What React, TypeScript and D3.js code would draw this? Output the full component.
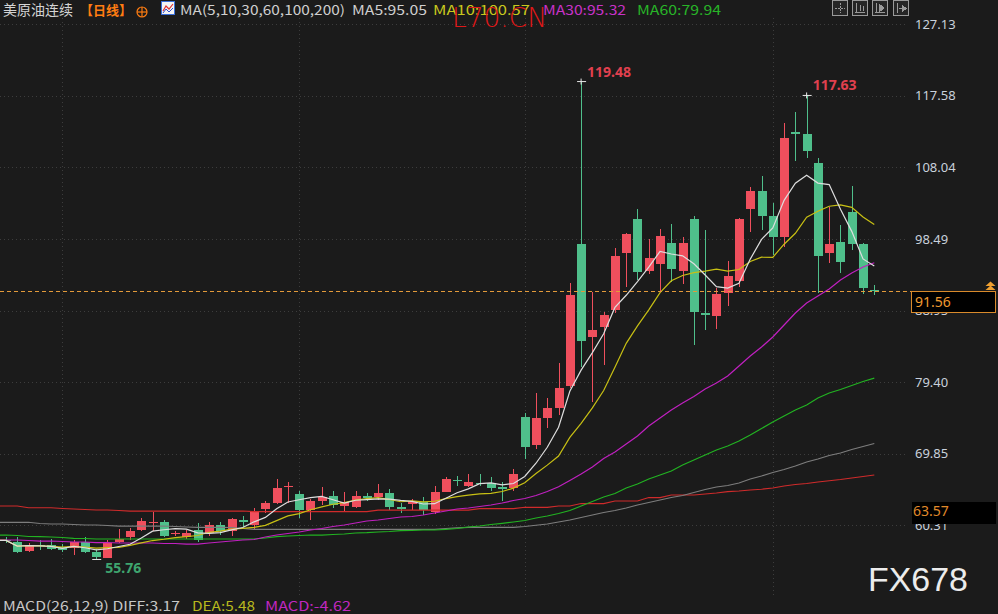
import * as d3 from 'd3';

// 日线 OHLC
const opens = [58.4, 58.1, 56.9, 57.7, 57.7, 57.4, 57.25, 58.1, 56.7, 56.0,
  58.1, 58.7, 59.7, 60.6, 60.7, 59.1, 58.7, 59.7, 59.25, 60.4,
  59.5, 61.0, 60.35, 62.45, 63.25, 65.4, 64.45, 62.3, 63.55, 64.2,
  62.9, 62.8, 64.2, 64.05, 64.6, 62.7, 63.2, 63.45, 62.15, 64.8,
  66.35, 65.6, 66.0, 65.9, 65.4, 65.25, 74.7, 71.0, 74.6, 75.9,
  78.93, 97.78, 85.4, 86.8, 89.0, 96.6, 101.1, 94.26, 95.15, 97.9,
  94.26, 101.1, 88.6, 88.2, 91.25, 92.93, 102.45, 104.9, 101.55, 98.8,
  112.8, 112.45, 108.58, 96.58, 98.05, 102.05, 97.78, 91.7];
const highs = [58.8, 58.7, 57.9, 58.4, 58.5, 57.8, 58.4, 58.7, 57.2, 58.4,
  59.8, 59.9, 61.3, 62.1, 61.0, 59.5, 59.7, 60.6, 60.7, 60.8,
  61.3, 61.55, 62.6, 63.6, 66.45, 66.05, 64.9, 63.8, 65.38, 64.9,
  64.7, 64.9, 64.6, 65.8, 65.2, 63.25, 63.8, 64.05, 65.5, 66.7,
  66.9, 67.2, 67.1, 66.8, 66.1, 67.8, 75.33, 77.9, 77.25, 82.0,
  92.6, 119.48, 91.46, 88.8, 97.25, 99.33, 102.45, 98.45, 99.8, 100.45,
  98.7, 101.55, 99.7, 91.9, 95.5, 101.25, 105.4, 106.9, 103.25, 113.9,
  115.46, 117.63, 109.25, 102.8, 100.36, 105.56, 98.0, 92.36];
const lows = [57.9, 56.6, 56.8, 57.0, 57.0, 56.7, 56.4, 56.6, 55.76, 55.9,
  57.9, 58.4, 59.5, 59.6, 58.7, 58.9, 58.5, 58.1, 58.9, 59.0,
  58.9, 60.1, 59.8, 62.0, 63.2, 63.25, 61.25, 61.0, 63.0, 62.65,
  62.1, 62.65, 63.6, 63.7, 62.35, 62.0, 62.35, 61.7, 61.85, 64.7,
  65.6, 65.4, 65.5, 64.9, 63.6, 64.9, 69.1, 70.45, 73.25, 75.0,
  78.6, 81.46, 76.8, 81.7, 88.6, 92.1, 93.0, 93.8, 91.5, 92.8,
  92.5, 84.36, 86.35, 86.45, 89.5, 92.13, 99.46, 99.7, 96.36, 97.46,
  108.93, 109.25, 91.25, 95.25, 93.9, 97.0, 91.1, 91.0];
const closes = [58.3, 56.8, 57.7, 57.5, 57.2, 57.0, 58.1, 56.8, 56.05, 58.0,
  58.5, 59.6, 60.9, 60.7, 58.9, 59.3, 59.25, 58.4, 60.3, 59.5,
  61.1, 60.8, 62.2, 63.25, 65.25, 65.6, 62.3, 63.6, 64.1, 63.0,
  63.4, 64.2, 64.0, 64.6, 62.8, 62.55, 63.55, 62.3, 64.8, 66.45,
  66.2, 66.1, 65.8, 65.25, 65.2, 67.1, 70.8, 74.6, 75.9, 78.6,
  90.99, 84.93, 86.3, 88.4, 96.2, 99.1, 94.1, 95.9, 98.9, 94.45,
  97.9, 88.8, 88.4, 91.1, 93.55, 101.1, 104.9, 101.5, 98.8, 111.9,
  112.5, 110.26, 96.26, 97.78, 95.46, 97.78, 91.9, 91.56];

// 长周期均线（窗口外数据不可得，按图读取）
const ma30 = [58.36, 58.36, 58.29, 58.22, 58.22, 58.16, 58.09, 58.09, 58.02, 58.02,
  57.96, 57.96, 57.96, 57.96, 57.89, 57.89, 57.82, 57.82, 57.96, 58.09,
  58.22, 58.36, 58.42, 58.76, 59.02, 59.22, 59.42, 59.69, 59.89, 60.16,
  60.36, 60.62, 60.89, 61.02, 61.22, 61.42, 61.49, 61.69, 61.96, 62.22,
  62.49, 62.62, 62.82, 63.02, 63.29, 63.62, 63.89, 64.29, 64.82, 65.46,
  66.29, 67.16, 68.09, 69.22, 70.09, 71.16, 72.22, 73.56, 74.62, 75.69,
  76.62, 77.49, 78.49, 79.29, 80.22, 81.56, 82.89, 84.09, 85.42, 87.02,
  88.62, 89.96, 90.89, 91.82, 93.02, 93.96, 94.76, 95.32];
const ma60 = [59.02, 58.96, 58.82, 58.80, 58.76, 58.69, 58.58, 58.56, 58.49, 58.49,
  58.49, 58.49, 58.49, 58.49, 58.49, 58.49, 58.49, 58.49, 58.49, 58.49,
  58.49, 58.49, 58.49, 58.62, 58.80, 58.89, 58.96, 59.02, 59.02, 59.09,
  59.16, 59.29, 59.33, 59.42, 59.49, 59.60, 59.62, 59.69, 59.69, 59.78,
  59.89, 60.09, 60.22, 60.42, 60.58, 60.76, 60.96, 61.29, 61.56, 61.89,
  62.29, 62.89, 63.49, 64.09, 64.56, 65.29, 65.82, 66.49, 67.02, 67.56,
  68.36, 69.02, 69.69, 70.36, 70.89, 71.56, 72.36, 73.22, 74.09, 74.89,
  75.69, 76.36, 77.29, 77.96, 78.42, 78.96, 79.49, 79.94];
const ma100 = [60.72, 60.72, 60.72, 60.56, 60.49, 60.49, 60.42, 60.36, 60.36, 60.29,
  60.22, 60.22, 60.22, 60.22, 60.22, 60.16, 60.09, 60.05, 60.05, 60.05,
  60.02, 59.89, 59.78, 59.78, 59.78, 59.78, 59.78, 59.78, 59.78, 59.78,
  59.78, 59.78, 59.78, 59.78, 59.78, 59.78, 59.78, 59.78, 59.78, 59.89,
  59.98, 60.05, 60.05, 60.05, 60.05, 60.05, 60.16, 60.32, 60.49, 60.76,
  61.02, 61.36, 61.69, 62.02, 62.29, 62.62, 63.02, 63.36, 63.69, 64.02,
  64.29, 64.69, 65.09, 65.42, 65.62, 65.96, 66.49, 66.89, 67.36, 67.76,
  68.22, 68.76, 69.16, 69.62, 69.96, 70.42, 70.82, 71.22];
const ma200 = [62.89, 62.89, 62.66, 62.66, 62.66, 62.56, 62.49, 62.42, 62.36, 62.36,
  62.29, 62.22, 62.22, 62.22, 62.22, 62.22, 62.22, 62.22, 62.22, 62.22,
  62.22, 62.22, 62.13, 62.13, 62.13, 62.13, 62.13, 62.13, 62.13, 62.13,
  62.13, 62.13, 62.13, 62.33, 62.33, 62.33, 62.33, 62.33, 62.33, 62.33,
  62.33, 62.33, 62.53, 62.53, 62.53, 62.53, 62.72, 62.72, 62.72, 62.89,
  62.89, 63.22, 63.22, 63.22, 63.56, 63.56, 63.56, 64.02, 64.02, 64.36,
  64.36, 64.36, 64.49, 64.62, 64.80, 64.89, 65.02, 65.12, 65.29, 65.56,
  65.76, 65.89, 66.09, 66.26, 66.42, 66.62, 66.82, 67.02];

const yTicks = [127.13, 117.58, 108.04, 98.49, 88.95, 79.40, 69.85, 60.31];
const monthStarts = [5, 26, 46, 68];
const highMarks = [51, 71];
const lowMarks = [8];
const lastPrice = 91.56;
const markPrice = 63.57;

const UP = '#ef4f5d';
const DOWN = '#4fbf8b';
const CN_FONT = '"Noto Sans CJK SC", "Noto Sans", sans-serif';

export default function App() {
  const W = 998;
  const H = 614;
  const n = closes.length;

  const x = d3.scalePoint<number>().domain(d3.range(n)).range([6, 874.3]);
  const y = d3.scaleLinear().domain([60.31, 127.13]).range([525.35, 24.2]);
  const X = (i: number) => x(i) as number;

  const movingAvg = (len: number) =>
    closes.map((_, i) => d3.mean(closes.slice(Math.max(0, i - len + 1), i + 1)) as number);
  const ma5 = movingAvg(5);
  const ma10 = movingAvg(10);

  const lineGen = d3.line<number>().x((_, i) => X(i)).y((d) => y(d));
  // 均线从左边缘画起
  const maPath = (data: number[]) => `M0,${y(data[0])}L` + (lineGen(data) ?? '').slice(1);

  const maSeries = [
    { key: 'ma200', data: ma200, color: '#cf2b2b' },
    { key: 'ma100', data: ma100, color: '#7d7d7d' },
    { key: 'ma60', data: ma60, color: '#22b322' },
    { key: 'ma30', data: ma30, color: '#c020c0' },
    { key: 'ma10', data: ma10, color: '#c8c014' },
    { key: 'ma5', data: ma5, color: '#dedede' },
  ];

  const bodyW = 9;

  return (
    <svg
      width={W}
      height={H}
      style={{ position: 'fixed', left: 0, top: 0, background: '#1b1b1b' }}
    >
      <rect width={W} height={H} fill='#1b1b1b' />

      {/* 网格 */}
      {yTicks.map((t) => (
        <line
          key={'g' + t}
          x1={0}
          x2={908}
          y1={Math.round(y(t)) + 0.5}
          y2={Math.round(y(t)) + 0.5}
          stroke='#3d3d3d'
          strokeDasharray='1,3'
        />
      ))}
      {monthStarts.map((i) => (
        <line
          key={'v' + i}
          x1={Math.round(X(i)) + 0.5}
          x2={Math.round(X(i)) + 0.5}
          y1={18}
          y2={596}
          stroke='#3d3d3d'
          strokeDasharray='1,3'
        />
      ))}

      {/* K线 */}
      {closes.map((c, i) => {
        const o = opens[i];
        const color = c >= o ? UP : DOWN;
        const cx = Math.round(X(i)) + 0.5;
        const top = y(Math.max(o, c));
        const h = Math.max(1, Math.abs(y(o) - y(c)));
        return (
          <g key={'k' + i} shapeRendering='crispEdges'>
            <line x1={cx} x2={cx} y1={y(highs[i])} y2={y(lows[i])} stroke={color} />
            <rect x={cx - bodyW / 2} y={top} width={bodyW} height={h} fill={color} />
          </g>
        );
      })}

      {/* 均线 */}
      {maSeries.map((s) => (
        <path key={s.key} d={maPath(s.data)} fill='none' stroke={s.color} strokeWidth={1.2} />
      ))}

      {/* 最高/最低标记 */}
      {highMarks.map((i) => (
        <g key={'h' + i}>
          <line x1={X(i) - 4} x2={X(i) + 5} y1={y(highs[i])} y2={y(highs[i])} stroke='#e8e8e8' />
          <line x1={X(i)} x2={X(i)} y1={y(highs[i]) - 3} y2={y(highs[i]) + 3} stroke='#e8e8e8' />
          <text
            x={X(i) + 6}
            y={y(highs[i]) - 5}
            fill='#e0404f'
            fontSize={14}
            fontWeight='bold'
            fontFamily='"Noto Sans", sans-serif'
          >
            {highs[i].toFixed(2)}
          </text>
        </g>
      ))}
      {lowMarks.map((i) => (
        <g key={'l' + i}>
          <line x1={X(i) - 4} x2={X(i) + 5} y1={y(lows[i])} y2={y(lows[i])} stroke='#e8e8e8' />
          <text
            x={X(i) + 9}
            y={y(lows[i]) + 14}
            fill='#3fa56f'
            fontSize={14}
            fontWeight='bold'
            fontFamily='"Noto Sans", sans-serif'
          >
            {lows[i].toFixed(2)}
          </text>
        </g>
      ))}

      {/* 右侧价格轴 */}
      {yTicks.map((t) => (
        <text
          key={'t' + t}
          x={915}
          y={y(t) + 4.5}
          fill='#c9d1dc'
          fontSize={13}
          fontFamily='"Noto Sans", sans-serif'
        >
          {t.toFixed(2)}
        </text>
      ))}

      {/* 最新价 */}
      <line
        x1={0}
        x2={911}
        y1={Math.round(y(lastPrice)) + 0.5}
        y2={Math.round(y(lastPrice)) + 0.5}
        stroke='#e39a3a'
        strokeDasharray='4,3'
      />
      <rect x={911.5} y={Math.round(y(lastPrice)) + 0.5} width={84} height={21} fill='#000' stroke='#d98a2b' />
      <text x={915} y={y(lastPrice) + 16} fill='#f09a30' fontSize={14} fontFamily='"Noto Sans", sans-serif'>
        {lastPrice.toFixed(2)}
      </text>
      <polygon points='985.5,286 990.5,281.5 995.5,286' fill='#f0a030' />
      <polygon points='985.5,290 990.5,285.5 995.5,290' fill='#f0a030' />

      <rect x={912} y={Math.round(y(markPrice)) + 1} width={84} height={22} fill='#000' />
      <text x={913} y={y(markPrice) + 15} fill='#e08a2a' fontSize={14} fontFamily='"Noto Sans", sans-serif'>
        {markPrice.toFixed(2)}
      </text>

      {/* 顶部标题栏 */}
      <g fontFamily={CN_FONT} fontSize={13}>
        <text x={3} y={15} fill='#d4d4d4' fontSize={14}>美原油连续</text>
        <text x={80} y={15} fill='#ff7d12' fontWeight={600}>【日线】</text>
        <circle cx={142} cy={12} r={5} fill='none' stroke='#ff7d12' strokeWidth={1.2} />
        <line x1={137} x2={147} y1={12} y2={12} stroke='#ff7d12' strokeWidth={1.2} />
        <line x1={142} x2={142} y1={7} y2={17} stroke='#ff7d12' strokeWidth={1.2} />
        <rect x={161.5} y={1.5} width={13} height={13} fill='#f4f4f4' stroke='#3a6ed8' />
        <polyline points='163,11 166,6 169,9 173,4' fill='none' stroke='#e03030' strokeWidth={1.2} />
        <polyline points='163,13 166,9 169,12 173,8' fill='none' stroke='#3050d0' strokeWidth={1} />
        <text x={180} y={15} fill='#cfcfcf' textLength={165} lengthAdjust='spacingAndGlyphs'>MA(5,10,30,60,100,200)</text>
        <text x={352} y={15} fill='#cfcfcf' textLength={75} lengthAdjust='spacingAndGlyphs'>MA5:95.05</text>
        <text x={433} y={15} fill='#c8c81e' textLength={97} lengthAdjust='spacingAndGlyphs'>MA10:100.57</text>
        <text x={543} y={15} fill='#c832c8' textLength={83} lengthAdjust='spacingAndGlyphs'>MA30:95.32</text>
        <text x={637} y={15} fill='#28b428' textLength={84} lengthAdjust='spacingAndGlyphs'>MA60:79.94</text>
      </g>
      <text
        x={452}
        y={27}
        fill='#e01818'
        fontSize={26}
        fontWeight={300}
        fontFamily='"DejaVu Sans", sans-serif'
        textLength={95}
        lengthAdjust='spacingAndGlyphs'
      >
        L70.CN
      </text>

      {/* 右上角按钮 */}
      {[832, 852, 872, 893].map((bx, k) => (
        <g key={'b' + k} stroke='#9a9a9a' fill='none' shapeRendering='crispEdges'>
          <rect x={bx + 0.5} y={0.5} width={15} height={15} fill='#262626' />
          {k === 0 && (
            <g>
              <line x1={bx + 3} x2={bx + 13} y1={8.5} y2={8.5} strokeDasharray='2,1' />
              <line x1={bx + 8.5} x2={bx + 8.5} y1={3} y2={13} strokeDasharray='2,1' />
            </g>
          )}
          {k === 1 && (
            <g>
              <line x1={bx + 3} x2={bx + 13} y1={12.5} y2={12.5} />
              <line x1={bx + 4.5} x2={bx + 4.5} y1={3} y2={13} />
              <line x1={bx + 8.5} x2={bx + 8.5} y1={5} y2={11} />
              <line x1={bx + 11.5} x2={bx + 11.5} y1={6} y2={11} />
            </g>
          )}
          {k === 2 && (
            <g>
              <line x1={bx + 4.5} x2={bx + 4.5} y1={3} y2={13} />
              <line x1={bx + 3} x2={bx + 13} y1={12.5} y2={12.5} />
              <polygon points={`${bx + 7},4 ${bx + 12},8 ${bx + 7},12`} fill='#9a9a9a' />
            </g>
          )}
          {k === 3 && (
            <g>
              <line x1={bx + 4.5} x2={bx + 4.5} y1={3} y2={13} />
              <line x1={bx + 6} x2={bx + 12} y1={8.5} y2={8.5} />
              <polygon points={`${bx + 9},5 ${bx + 13},8.5 ${bx + 9},12`} fill='#9a9a9a' />
            </g>
          )}
        </g>
      ))}

      {/* 水印 */}
      <text
        x={868}
        y={591}
        fill='#ececec'
        fontSize={33}
        fontFamily='"Liberation Sans", sans-serif'
        textLength={100}
        lengthAdjust='spacingAndGlyphs'
      >
        FX678
      </text>

      {/* MACD 标题 */}
      <g fontFamily={CN_FONT} fontSize={13}>
        <text x={3} y={611} fill='#c8c8c8' textLength={177} lengthAdjust='spacingAndGlyphs'>MACD(26,12,9) DIFF:3.17</text>
        <text x={192} y={611} fill='#b8b81e' textLength={63} lengthAdjust='spacingAndGlyphs'>DEA:5.48</text>
        <text x={265} y={611} fill='#c028c0' textLength={86} lengthAdjust='spacingAndGlyphs'>MACD:-4.62</text>
      </g>
    </svg>
  );
}
